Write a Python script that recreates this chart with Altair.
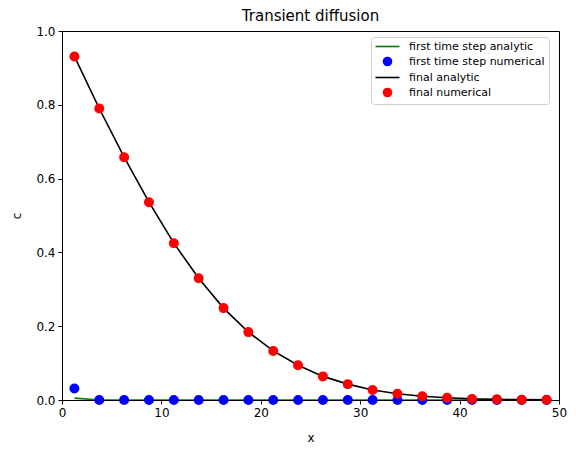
import altair as alt
import pandas as pd

x_vals = [1.25, 3.75, 6.25, 8.75, 11.25, 13.75, 16.25, 18.75, 21.25, 23.75,
          26.25, 28.75, 31.25, 33.75, 36.25, 38.75, 41.25, 43.75, 46.25, 48.75]
first_analytic = [0.005, 0.0, 0.0, 0.0, 0.0, 0.0, 0.0, 0.0, 0.0, 0.0,
                  0.0, 0.0, 0.0, 0.0, 0.0, 0.0, 0.0, 0.0, 0.0, 0.0]
first_numerical = [0.031, 0.0, 0.0, 0.0, 0.0, 0.0, 0.0, 0.0, 0.0, 0.0,
                   0.0, 0.0, 0.0, 0.0, 0.0, 0.0, 0.0, 0.0, 0.0, 0.0]
final_analytic = [0.931, 0.790, 0.658, 0.536, 0.425, 0.330, 0.249, 0.184, 0.133, 0.094,
                  0.064, 0.043, 0.027, 0.017, 0.010, 0.006, 0.003, 0.002, 0.001, 0.0005]
final_numerical = [0.931, 0.790, 0.658, 0.536, 0.425, 0.330, 0.249, 0.184, 0.133, 0.094,
                   0.064, 0.043, 0.027, 0.017, 0.010, 0.006, 0.003, 0.002, 0.001, 0.0005]

names = ["first time step analytic", "first time step numerical",
         "final analytic", "final numerical"]
colors = ["#008000", "#0000ff", "#000000", "#ff0000"]
shapes = ["M-3,0H3", "circle", "M-3,0H3", "circle"]

def frame(vals, name):
    return pd.DataFrame({"x": x_vals, "c": vals, "series": name})

df_ga = frame(first_analytic, names[0])
df_bn = frame(first_numerical, names[1])
df_ka = frame(final_analytic, names[2])
df_rn = frame(final_numerical, names[3])

xs = alt.X("x:Q", title="x", scale=alt.Scale(domain=[0, 50], nice=False, zero=False),
           axis=alt.Axis(values=[0, 10, 20, 30, 40, 50], format="d"))
ys = alt.Y("c:Q", title="c", scale=alt.Scale(domain=[0, 1], nice=False),
           axis=alt.Axis(values=[0, 0.2, 0.4, 0.6, 0.8, 1.0], format=".1f"))

color_scale = alt.Scale(domain=names, range=colors)
legend = alt.Legend(title=None)

def line_layer(df):
    return alt.Chart(df).mark_line(strokeWidth=1.6, clip=True).encode(
        x=xs, y=ys,
        color=alt.Color("series:N", scale=color_scale, legend=legend),
    )

def point_layer(df):
    return alt.Chart(df).mark_point(filled=True, opacity=1, size=64, clip=False).encode(
        x=xs, y=ys,
        color=alt.Color("series:N", scale=color_scale, legend=legend),
        stroke=alt.Stroke("series:N", scale=alt.Scale(domain=names, range=colors), legend=legend),
        shape=alt.Shape("series:N", scale=alt.Scale(domain=names, range=shapes), legend=legend),
    )

chart = alt.layer(
    line_layer(df_ga), point_layer(df_bn), line_layer(df_ka), point_layer(df_rn)
).properties(
    width=497, height=369,
    title=alt.Title("Transient diffusion", fontSize=15, fontWeight="normal",
                    font="DejaVu Sans", color="black", offset=1),
    autosize=alt.AutoSizeParams(type="none"),
    padding={"left": 62, "top": 31, "right": 17, "bottom": 53},
).configure_view(
    stroke="black", strokeWidth=1
).configure_axis(
    grid=False, domainColor="black", tickColor="black", labelColor="black",
    titleColor="black", labelFont="DejaVu Sans", titleFont="DejaVu Sans",
    labelFontSize=12, titleFontSize=12, titleFontWeight="normal",
    tickSize=4, labelPadding=3, domainWidth=1, tickWidth=1, labelFlush=False,
).configure_axisX(titlePadding=14).configure_axisY(titlePadding=12, labelPadding=3
).configure_legend(
    orient="none", legendX=309, legendY=6,
    strokeColor="#d0d0d0", fillColor="white", cornerRadius=3, padding=4,
    labelFont="DejaVu Sans", labelFontSize=11, labelColor="black",
    rowPadding=2, symbolStrokeWidth=1.6, symbolSize=64, symbolOffset=7, labelOffset=16,
)

chart.save("out.html", embed_options={"renderer": "svg", "actions": False})
